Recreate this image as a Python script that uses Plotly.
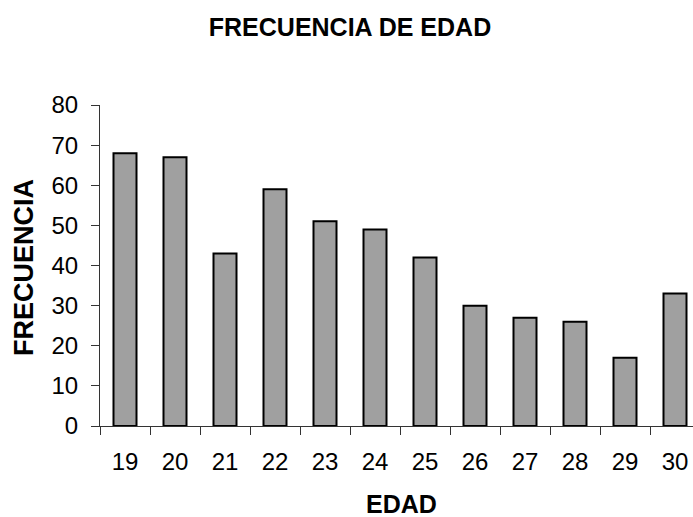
import plotly.graph_objects as go

edades = ["19", "20", "21", "22", "23", "24", "25", "26", "27", "28", "29", "30"]
frecuencia = [68, 67, 43, 59, 51, 49, 42, 30, 27, 26, 17, 33]
yticks = [0, 10, 20, 30, 40, 50, 60, 70, 80]

W, H = 693, 517
L, R, T, B = 100, 0, 105, 91
PW = W - L - R
PH = H - T - B

FONT = "Liberation Sans, Arial, sans-serif"

fig = go.Figure(
    go.Bar(
        x=edades,
        y=frecuencia,
        marker=dict(color="#A0A0A0", line=dict(color="#000000", width=2)),
    )
)

fig.update_layout(
    width=W,
    height=H,
    margin=dict(l=L, r=R, t=T, b=B, autoexpand=False),
    paper_bgcolor="white",
    plot_bgcolor="white",
    bargap=0.54,
    showlegend=False,
    font=dict(family=FONT, color="black", size=24),
    title=dict(
        text="<b>FRECUENCIA DE EDAD</b>",
        x=350 / W,
        xanchor="center",
        y=1 - 27.5 / H,
        yanchor="middle",
        font=dict(family=FONT, size=25, color="black"),
    ),
    xaxis=dict(
        type="category",
        range=[-0.5, -0.5 + PW / 50.0],
        showline=True,
        linecolor="#333333",
        linewidth=1,
        ticks="outside",
        ticklen=8,
        tickcolor="#333333",
        tickson="boundaries",
        showgrid=False,
        zeroline=False,
        ticklabelstandoff=14,
        tickfont=dict(family=FONT, size=24, color="black"),
    ),
    yaxis=dict(
        range=[0, 80],
        tickvals=yticks,
        showline=True,
        linecolor="#333333",
        linewidth=1,
        ticks="outside",
        ticklen=8,
        tickcolor="#333333",
        showgrid=False,
        zeroline=False,
        ticklabelstandoff=8,
        tickfont=dict(family=FONT, size=24, color="black"),
    ),
    annotations=[
        dict(
            text="<b>FRECUENCIA</b>",
            xref="paper",
            yref="paper",
            x=(24 - L) / PW,
            y=(H - B - 268) / PH,
            xanchor="center",
            yanchor="middle",
            textangle=-90,
            showarrow=False,
            font=dict(family=FONT, size=27, color="black"),
        ),
        dict(
            text="<b>EDAD</b>",
            xref="paper",
            yref="paper",
            x=(401 - L) / PW,
            y=-(H + 3 - (H - B)) / PH,
            xanchor="center",
            yanchor="bottom",
            showarrow=False,
            font=dict(family=FONT, size=25, color="black"),
        ),
    ],
)

fig.write_html("out.html")
